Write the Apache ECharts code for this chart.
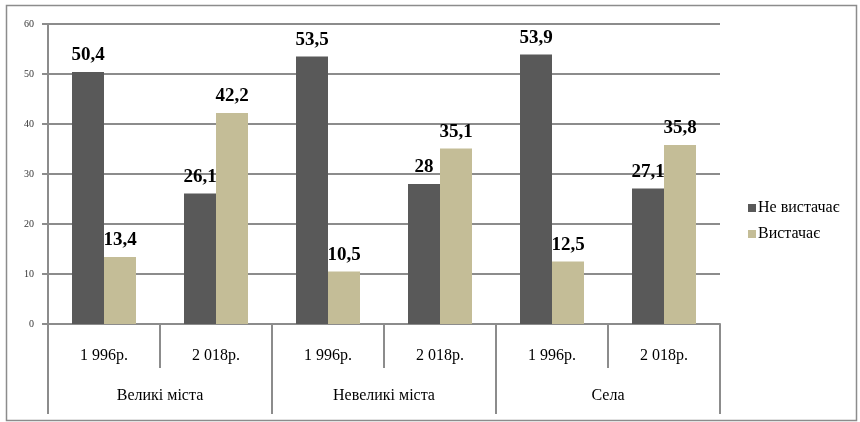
<!DOCTYPE html>
<html>
<head>
<meta charset="utf-8">
<script src="https://cdn.jsdelivr.net/npm/echarts@6/dist/echarts.min.js"></script>
<style>html,body{margin:0;padding:0;background:#fff}#c{width:860px;height:422px}</style>
</head>
<body>
<div id="c"></div>
<script>
var years = ['1 996р.', '2 018р.', '1 996р.', '2 018р.', '1 996р.', '2 018р.'];
var groups = ['Великі міста', 'Невеликі міста', 'Села'];
var seriesNames = ['Не вистачає', 'Вистачає'];
var notEnough = [50.4, 26.1, 53.5, 28, 53.9, 27.1];
var enough = [13.4, 42.2, 10.5, 35.1, 12.5, 35.8];
var yTicks = [0, 10, 20, 30, 40, 50, 60];

var font = '"Liberation Serif", serif';
var axisGray = '#8c8c8c';
var chart = echarts.init(document.getElementById('c'));
function fmt(p){ return String(p.value).replace('.', ','); }
chart.setOption({
  animation: false,
  textStyle: { fontFamily: font },
  graphic: [{
    type: 'rect', shape: { x: 6.5, y: 5.5, width: 850, height: 415 },
    style: { fill: 'none', stroke: '#8c8c8c', lineWidth: 1.5 }, silent: true
  }],
  grid: { left: 48, right: 140, top: 24, bottom: 98 },
  legend: {
    orient: 'vertical', left: 743, top: 195, itemWidth: 8, itemHeight: 8, itemGap: 10,
    icon: 'rect', data: seriesNames,
    textStyle: { fontFamily: font, fontSize: 16, color: '#000', padding: [0, 0, 0, -3] }
  },
  xAxis: [{
    type: 'category', data: years, position: 'bottom',
    axisLine: { lineStyle: { color: axisGray, width: 2 } },
    axisTick: { show: true, interval: 0, length: 44, lineStyle: { color: axisGray, width: 2 } },
    axisLabel: { interval: 0, margin: 24, fontFamily: font, fontSize: 16, color: '#000' }
  }, {
    type: 'category', data: groups, position: 'bottom',
    axisLine: { show: false },
    axisTick: { show: true, interval: 0, length: 90, lineStyle: { color: axisGray, width: 2 } },
    axisLabel: { interval: 0, margin: 64, fontFamily: font, fontSize: 16, color: '#000' }
  }],
  yAxis: {
    type: 'value', min: yTicks[0], max: yTicks[yTicks.length - 1], interval: 10,
    axisLine: { show: true, lineStyle: { color: axisGray, width: 2 } },
    axisTick: { show: true, length: 6, lineStyle: { color: axisGray, width: 2 } },
    axisLabel: { margin: 14, fontFamily: font, fontSize: 10, color: '#333' },
    splitLine: { lineStyle: { color: axisGray, width: 2 } }
  },
  series: [{
    name: seriesNames[0], type: 'bar', data: notEnough, barWidth: 32, barGap: '0%',
    itemStyle: { color: '#595959' },
    label: { show: true, position: 'top', distance: 7, formatter: fmt, fontFamily: font, fontSize: 19, fontWeight: 'bold', color: '#000' }
  }, {
    name: seriesNames[1], type: 'bar', data: enough, barWidth: 32, barGap: '0%',
    itemStyle: { color: '#c4bd97' },
    label: { show: true, position: 'top', distance: 7, formatter: fmt, fontFamily: font, fontSize: 19, fontWeight: 'bold', color: '#000' }
  }]
});
</script>
</body>
</html>
